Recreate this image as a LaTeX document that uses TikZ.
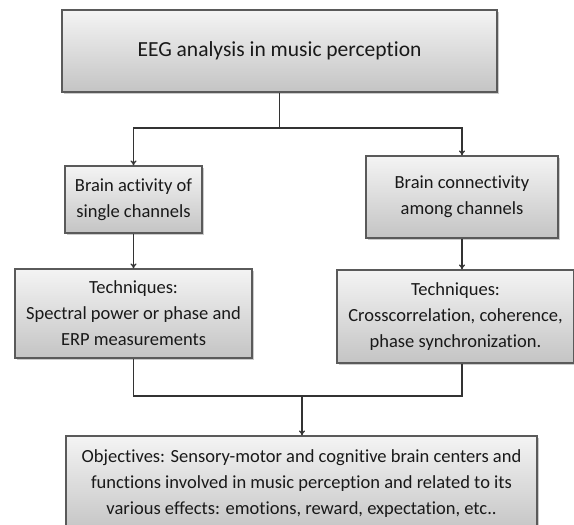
\documentclass[tikz,border=0pt]{standalone}
\usepackage{fontspec}
\setmainfont{Carlito}[Ligatures=NoCommon]
\usetikzlibrary{shadows,arrows.meta}
\definecolor{boxline}{HTML}{5A5A5A}
\definecolor{boxtop}{HTML}{F4F4F4}
\definecolor{boxbot}{HTML}{C4C4C4}
\definecolor{conn}{HTML}{333333}
\tikzset{
  gbox/.style={draw=boxline, line width=1.1pt, top color=boxtop, bottom color=boxbot,
    align=center, inner sep=0pt, text=black!90,
    drop shadow={shadow xshift=2pt, shadow yshift=-2pt, fill=black!45, opacity=0.45},
    font=\fontsize{18.5}{26}\selectfont},
  conn/.style={draw=conn, line width=1.3pt},
  arr/.style={conn, -{To[length=5pt,width=6pt]}}
}
\begin{document}
\begin{tikzpicture}[x=1pt,y=-1pt]
\useasboundingbox (0,0) rectangle (574,525);
\node[gbox, minimum width=435pt, minimum height=82pt, font=\fontsize{21.5}{26}\selectfont] (top) at (279.5,51) {EEG analysis in music perception};
\node[gbox, minimum width=137pt, minimum height=67pt] (lb) at (133.5,199.5) {Brain activity of\\single channels};
\node[gbox, minimum width=192pt, minimum height=82pt] (rb) at (462,197) {Brain connectivity\\among channels};
\node[gbox, minimum width=237pt, minimum height=89pt] (lt) at (133.5,313.5) {Techniques:\\Spectral power or phase and\\ERP measurements};
\node[gbox, minimum width=237pt, minimum height=93pt] (rt) at (455.5,316.5) {Techniques:\\Crosscorrelation, coherence,\\phase synchronization.};
\node[gbox, minimum width=471pt, minimum height=96pt] (obj) at (301.5,484) {Objectives: Sensory-motor and cognitive brain centers and\\functions involved in music perception and related to its\\various effects: emotions, reward, expectation, etc..};
\coordinate (j1) at (279.5,128);
\coordinate (j2) at (302,396);
\draw[conn] (top.south) -- (j1);
\draw[arr] (j1) -| (lb.north);
\draw[arr] (j1) -| (rb.north);
\draw[arr] (lb.south) -- (lt.north);
\draw[arr] (rb.south) -- (rb.south |- rt.north);
\draw[conn] (lt.south) |- (j2);
\draw[conn] (rb.south |- rt.south) |- (j2);
\draw[arr] (j2) -- (j2 |- obj.north);
\end{tikzpicture}
\end{document}
